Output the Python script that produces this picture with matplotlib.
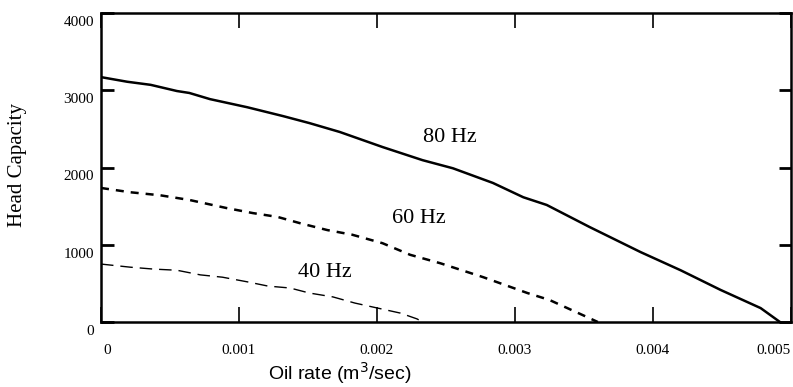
import matplotlib.pyplot as plt
from matplotlib.transforms import ScaledTranslation

# pump head curves
rate_80 = [0.0, 0.00019, 0.00036, 0.00055, 0.00064, 0.00079, 0.00106, 0.00132, 0.00151,
           0.00173, 0.00204, 0.00233, 0.00255, 0.00284, 0.00306, 0.00323, 0.00354,
           0.00391, 0.0042, 0.00449, 0.00478, 0.00492]
head_80 = [3170, 3110, 3070, 2990, 2965, 2885, 2780, 2665, 2575,
           2460, 2265, 2095, 1990, 1800, 1615, 1515, 1230,
           905, 670, 415, 180, 0]

rate_60 = [0.0, 0.00021, 0.00043, 0.00064, 0.00091, 0.0011, 0.00128, 0.00144, 0.00164,
           0.00182, 0.00204, 0.00224, 0.00246, 0.00277, 0.00309, 0.00325, 0.00349, 0.0036]
head_60 = [1735, 1680, 1640, 1580, 1475, 1410, 1360, 1280, 1190,
           1130, 1020, 870, 760, 580, 375, 285, 90, 0]

rate_40 = [0.0, 0.00021, 0.00038, 0.00055, 0.00072, 0.00088, 0.00106, 0.00121, 0.00137,
           0.00151, 0.00168, 0.00184, 0.00217, 0.00229, 0.00233]
head_40 = [750, 710, 685, 670, 610, 580, 520, 465, 440,
           375, 325, 245, 115, 40, 0]

labels = ["80 Hz", "60 Hz", "40 Hz"]
label_pos = [(0.00253, 2390), (0.0023, 1345), (0.00162, 645)]

x_ticks = [0, 0.001, 0.002, 0.003, 0.004, 0.005]
x_ticklabels = ["0", "0.001", "0.002", "0.003", "0.004", "0.005"]
y_ticks = [0, 1000, 2000, 3000, 4000]

serif = "Liberation Serif"

fig = plt.figure(figsize=(7.93, 3.87), dpi=100)
ax = fig.add_axes([101 / 793, 65 / 387, 690 / 793, 309 / 387])

ax.plot(rate_80, head_80, color="black", linewidth=1.8)
ax.plot(rate_60, head_60, color="black", linewidth=1.8, linestyle=(0, (3.2, 2.8)))
ax.plot(rate_40, head_40, color="black", linewidth=1.0, linestyle=(0, (9, 5)))

for txt, (x, y) in zip(labels, label_pos):
    ax.text(x, y, txt, family=serif, fontsize=16, ha="center", va="center")

ax.set_xlim(0, 0.005)
ax.set_ylim(0, 4000)
ax.set_xticks(x_ticks)
ax.set_xticklabels(x_ticklabels)
ax.set_yticks(y_ticks)

ax.tick_params(axis="x", direction="in", length=11, width=1.2, pad=16,
               top=True, labelsize=11)
ax.tick_params(axis="y", direction="in", length=9, width=2, pad=5,
               right=True, labelsize=11)
for lab in ax.get_xticklabels() + ax.get_yticklabels():
    lab.set_family(serif)

# y labels sit a little below their ticks in the original
for lab in ax.get_yticklabels():
    lab.set_transform(lab.get_transform() + ScaledTranslation(0, -0.08, fig.dpi_scale_trans))
xl = ax.get_xticklabels()
xl[0].set_transform(xl[0].get_transform() + ScaledTranslation(0.06, 0, fig.dpi_scale_trans))
xl[-1].set_horizontalalignment("right")

for side in ax.spines:
    ax.spines[side].set_linewidth(1.8)

fig.text(18 / 793, 1 - 165 / 387, "Head Capacity", family=serif, fontsize=15,
         rotation=90, ha="center", va="center")
fig.text(340 / 793, 1 - 373 / 387, "Oil rate (m$^3$/sec)", family="Liberation Sans",
         fontsize=14, ha="center", va="center")

fig.savefig("out.png", dpi=100)
plt.close(fig)
